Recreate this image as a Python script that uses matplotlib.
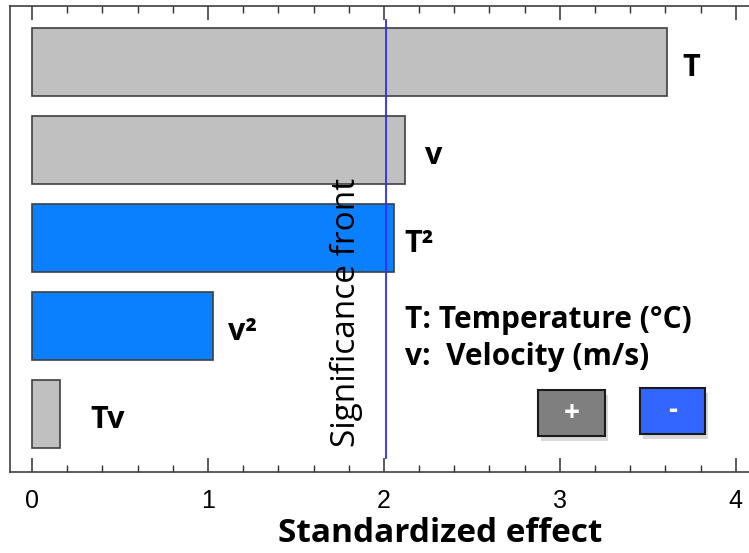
import numpy as np
import matplotlib
matplotlib.use("Agg")
import matplotlib.pyplot as plt
from matplotlib.patches import Rectangle

# effects, top to bottom
terms = ["T", "v", "T²", "v²", "Tv"]
effects = [3.61, 2.12, 2.06, 1.03, 0.16]
signs = ["+", "+", "-", "-", "+"]
significance = 2.01

FONT = ["Open Sans", "DejaVu Sans"]
W, H = 749, 553
fig = plt.figure(figsize=(W / 100, H / 100), dpi=100)
ax = fig.add_axes([10 / W, 81 / H, 1 - 10 / W, 466 / H])

colors = {"+": "#c0c0c0", "-": "#0a80fe"}
ypos = np.arange(len(terms))
ax.barh(ypos, effects, height=0.78, color=[colors[s] for s in signs],
        edgecolor="#404040", linewidth=1.2, zorder=2)

label_off = [15, 20, 10, 15, 30]
for y, val, name, off in zip(ypos, effects, terms, label_off):
    ax.annotate(name, (val, y), xytext=(off, -6), textcoords="offset pixels",
                ha="left", va="center", fontsize=22, fontweight="bold",
                family=FONT)

ax.axvline(significance, ymin=0.03, ymax=0.97, color="#2b2bff", lw=1.3, zorder=3)
ax.text(significance - 0.225, 2.85, "Significance front", rotation=90,
        ha="center", va="center", fontsize=24, family=FONT)

ax.set_xlim(-0.125, 4.075)
ax.set_ylim(4.659, -0.636)
ax.set_yticks([])
ax.set_xticks(np.arange(0, 5))
ax.set_xticks(np.arange(0, 4.2, 0.2), minor=True)
ax.tick_params(axis="x", which="major", direction="in", length=10, width=1.1,
               top=True, labelsize=18, pad=12, color="#303030")
ax.tick_params(axis="x", which="minor", direction="in", length=5, width=1,
               top=True, color="#303030")
for lab in ax.get_xticklabels():
    lab.set_family(["Liberation Sans Narrow", "Liberation Sans", "DejaVu Sans"])
ax.spines["right"].set_visible(False)
for s in ["left", "top", "bottom"]:
    ax.spines[s].set_color("#404040")
    ax.spines[s].set_linewidth(1.2)

fig.text(440 / W, 1 - 533 / H, "Standardized effect", fontsize=24,
         fontweight="bold", ha="center", va="center", family=FONT)

fig.text(405 / W, 1 - 320 / H, "T: Temperature (°C)", fontsize=21.5,
         fontweight="bold", va="center", family=FONT)
fig.text(405 / W, 1 - 357 / H, "v:  Velocity (m/s)", fontsize=21.5,
         fontweight="bold", va="center", family=FONT)

# sign legend boxes
for x0, y0, w, h, fc, txt in [(538, 390, 67, 46, "#7f7f7f", "+"),
                              (640, 388, 65, 46, "#3366ff", "-")]:
    shadow = Rectangle(((x0 + 3) / W, 1 - (y0 + h + 5) / H), w / W, h / H,
                       transform=fig.transFigure, facecolor="#000000",
                       alpha=0.15, edgecolor="none")
    box = Rectangle((x0 / W, 1 - (y0 + h) / H), w / W, h / H,
                    transform=fig.transFigure, facecolor=fc,
                    edgecolor="#1a1a1a", linewidth=1.5)
    fig.add_artist(shadow)
    fig.add_artist(box)
    fig.text((x0 + w / 2) / W, 1 - (y0 + h / 2) / H, txt, color="white",
             fontsize=20, fontweight="bold", ha="center", va="center",
             family=FONT)

fig.savefig("out.png", dpi=100)
